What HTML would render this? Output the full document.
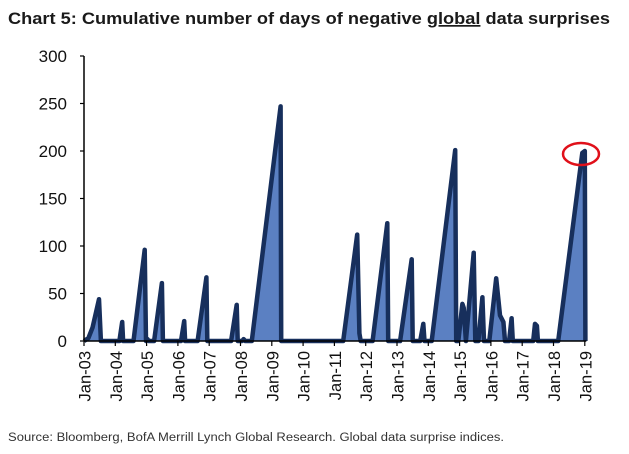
<!DOCTYPE html>
<html><head><meta charset="utf-8"><style>
html,body{margin:0;padding:0;background:#fff;}
svg{display:block;font-family:"Liberation Sans",sans-serif;}
</style></head><body>
<svg id="chart" width="629" height="454" viewBox="0 0 629 454" xmlns="http://www.w3.org/2000/svg">
<text x="8" y="24" font-size="17" font-weight="bold" fill="#1a1a1a" textLength="602" lengthAdjust="spacingAndGlyphs">Chart 5: Cumulative number of days of negative <tspan text-decoration="underline">global</tspan> data surprises</text>
<g id="plot"></g>
<text x="8" y="441" font-size="11.5" fill="#333" textLength="496" lengthAdjust="spacingAndGlyphs">Source: Bloomberg, BofA Merrill Lynch Global Research. Global data surprise indices.</text>
</svg>
<script>
const times = [2003.0,2003.14,2003.27,2003.48,2003.54,2004.13,2004.22,2004.25,2004.58,2004.94,2004.98,2005.03,2005.06,2005.24,2005.49,2005.52,2006.10,2006.20,2006.23,2006.63,2006.91,2006.94,2007.70,2007.88,2007.91,2008.05,2008.1,2008.15,2008.36,2009.28,2009.30,2011.28,2011.73,2011.80,2011.84,2012.22,2012.69,2012.72,2013.10,2013.47,2013.50,2013.74,2013.84,2013.88,2014.11,2014.86,2014.89,2014.96,2015.09,2015.13,2015.20,2015.45,2015.50,2015.60,2015.73,2015.78,2015.95,2016.17,2016.29,2016.40,2016.45,2016.58,2016.66,2016.70,2017.35,2017.41,2017.47,2017.50,2018.15,2018.92,2019.0,2019.02];
const values = [0,3,14,44,0,0,20,0,0,96,0,2,0,0,61,0,0,21,0,0,67,0,0,38,0,0,2,0,0,247,0,0,112,8,0,0,124,0,0,86,0,0,18,0,0,201,0,0,39,35,0,93,0,0,46,0,0,66,27,20,0,0,24,0,0,18,16,0,0,198,200,0];
const yTicks = [0,50,100,150,200,250,300];
const xTickLabels = ["Jan-03","Jan-04","Jan-05","Jan-06","Jan-07","Jan-08","Jan-09","Jan-10","Jan-11","Jan-12","Jan-13","Jan-14","Jan-15","Jan-16","Jan-17","Jan-18","Jan-19"];
const ns="http://www.w3.org/2000/svg";
const g=document.getElementById('plot');
const X0=84, PXY=31.3, Y0=341, PXV=0.95;
const xs=t=>X0+(t-2003)*PXY;
const ys=v=>Y0-v*PXV;
function mk(tag,attrs){const e=document.createElementNS(ns,tag);for(const k in attrs)e.setAttribute(k,attrs[k]);g.appendChild(e);return e;}
let d='M'+xs(times[0])+','+Y0;
for(let i=0;i<times.length;i++) d+=' L'+xs(times[i]).toFixed(1)+','+ys(values[i]).toFixed(1);
d+=' L'+xs(times[times.length-1]).toFixed(1)+','+Y0+' Z';
const area=mk('path',{d:d,fill:'#5b80c2',stroke:'none'});


let ld='';
for(let i=0;i<times.length;i++) ld+=(i?' L':'M')+xs(times[i]).toFixed(1)+','+ys(values[i]).toFixed(1);
const line=mk('path',{d:ld,fill:'none',stroke:'#172f5c','stroke-width':4.5,'stroke-linejoin':'round'});


const ya=mk('line',{x1:X0,y1:ys(300),x2:X0,y2:Y0,stroke:'#000','stroke-width':1.5});


const xa=mk('line',{x1:X0,y1:Y0,x2:xs(2019.05),y2:Y0,stroke:'#000','stroke-width':1.5});


yTicks.forEach(v=>{
  const t=mk('line',{x1:X0-4,y1:ys(v),x2:X0,y2:ys(v),stroke:'#000','stroke-width':1.2});
  
  
  const l=mk('text',{x:67,y:ys(v)+6,'font-size':17,'text-anchor':'end',fill:'#111'});
  l.textContent=v;
  
  
});
xTickLabels.forEach((s,i)=>{
  const x=xs(2003+i);
  const t=mk('line',{x1:x,y1:Y0,x2:x,y2:Y0+5,stroke:'#000','stroke-width':1.2});
  
  
  const l=mk('text',{x:0,y:0,'font-size':16.5,'text-anchor':'end',fill:'#111',transform:'translate('+(x+6.5)+','+(Y0+10)+') rotate(-90)'});
  l.textContent=s;
  
  
});
const c=mk('ellipse',{cx:581,cy:154,rx:18,ry:11,fill:'none',stroke:'#e0101a','stroke-width':2.5});


</script>
</body></html>
